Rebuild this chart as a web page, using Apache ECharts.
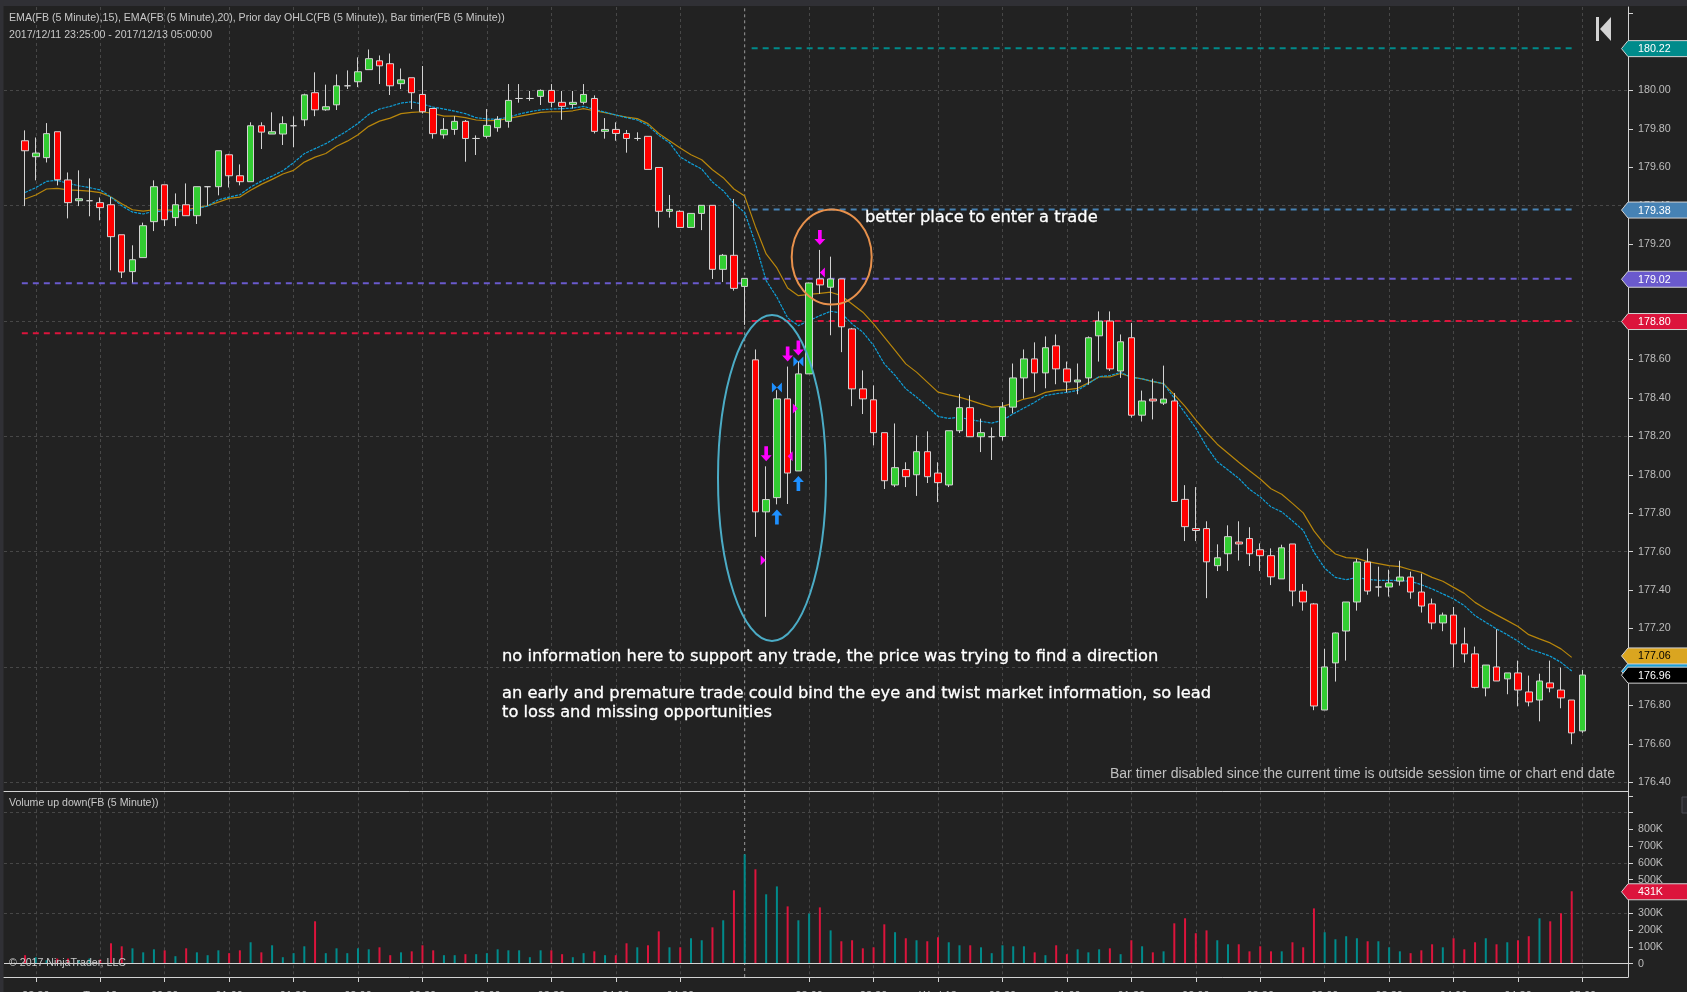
<!DOCTYPE html>
<html><head><meta charset="utf-8">
<style>html,body{margin:0;padding:0;background:#222222;overflow:hidden}#c{width:1687px;height:992px}</style>
<script src="https://cdn.jsdelivr.net/npm/echarts@6/dist/echarts.min.js"></script>
</head><body><div id="c"></div>
<script>
// open, close, low, high for every 5-minute bar
const candles = [
[179.738,179.686,179.398,179.792],[179.655,179.674,179.532,179.755],[179.65,179.775,179.625,179.83],[179.785,179.535,179.506,179.785],
[179.534,179.416,179.334,179.573],[179.426,179.436,179.398,179.584],[179.426,179.426,179.345,179.542],[179.416,179.39,179.324,179.443],
[179.405,179.239,179.064,179.445],[179.249,179.055,179.024,179.249],[179.057,179.119,179.0,179.194],[179.13,179.296,179.13,179.312],
[179.317,179.499,179.268,179.532],[179.509,179.327,179.294,179.509],[179.338,179.405,179.294,179.464],[179.405,179.348,179.348,179.516],
[179.348,179.499,179.305,179.499],[179.499,179.499,179.40,179.50],[179.499,179.686,179.454,179.686],[179.665,179.556,179.495,179.67],
[179.556,179.525,179.506,179.615],[179.525,179.816,179.525,179.834],[179.816,179.783,179.695,179.834],[179.773,179.785,179.773,179.886],
[179.773,179.827,179.716,179.865],[179.816,179.816,179.705,179.865],[179.847,179.977,179.814,179.983],[179.988,179.899,179.866,180.094],
[179.899,179.915,179.894,180.03],[179.925,180.024,179.898,180.083],[180.024,180.024,180.007,180.104],[180.045,180.097,180.017,180.172],
[180.108,180.165,180.108,180.213],[180.154,180.128,180.033,180.182],[180.139,180.024,179.976,180.192],[180.035,180.055,180.007,180.114],
[180.066,179.988,179.903,180.066],[179.979,179.889,179.88,180.127],[179.906,179.775,179.749,179.906],[179.769,179.797,179.749,179.856],
[179.797,179.839,179.769,179.866],[179.839,179.75,179.629,179.846],[179.75,179.75,179.664,179.766],[179.761,179.818,179.75,179.903],
[179.806,179.849,179.785,179.866],[179.839,179.948,179.806,180.033],[179.958,179.958,179.936,180.033],[179.958,179.958,179.946,179.997],
[179.969,180.0,179.924,180.005],[180.0,179.938,179.912,180.033],[179.938,179.917,179.847,179.997],[179.927,179.938,179.906,179.997],
[179.938,179.979,179.927,180.033],[179.958,179.787,179.776,179.974],[179.787,179.797,179.749,179.856],[179.797,179.776,179.738,179.834],
[179.776,179.75,179.676,179.794],[179.75,179.75,179.738,179.782],[179.761,179.589,179.589,179.761],[179.599,179.371,179.286,179.599],
[179.371,179.381,179.338,179.456],[179.371,179.287,179.287,179.376],[179.287,179.36,179.287,179.36],[179.36,179.402,179.273,179.402],
[179.402,179.069,179.019,179.402],[179.069,179.142,179.003,179.149],[179.142,178.97,178.958,179.435],[178.98,179.022,178.78,179.022],
[178.598,177.807,177.677,178.652],[177.807,177.871,177.261,178.044],[177.881,178.395,177.846,178.44],[178.395,178.009,177.848,178.563],
[178.02,178.525,178.02,178.59],[178.525,178.998,178.525,179.0],[179.019,178.988,178.941,179.17],[178.976,179.019,178.726,179.135],
[179.019,178.77,178.638,179.019],[178.759,178.447,178.357,178.764],[178.447,178.395,178.316,178.543],[178.39,178.219,178.153,178.465],
[178.219,177.969,177.926,178.219],[177.947,178.037,177.936,178.267],[178.027,177.99,177.936,178.065],[178.0,178.12,177.89,178.205],
[178.12,177.99,177.957,178.226],[178.009,177.959,177.858,178.065],[177.947,178.229,177.936,178.229],[178.229,178.349,178.217,178.421],
[178.349,178.198,178.198,178.413],[178.198,178.219,178.118,178.292],[178.198,178.198,178.077,178.246],[178.199,178.352,178.178,178.378],
[178.352,178.504,178.319,178.579],[178.504,178.603,178.396,178.652],[178.603,178.53,178.429,178.689],[178.53,178.661,178.45,178.72],
[178.671,178.551,178.471,178.73],[178.551,178.483,178.429,178.589],[178.483,178.493,178.419,178.579],[178.504,178.713,178.469,178.72],
[178.723,178.80,178.589,178.85],[178.80,178.551,178.54,178.85],[178.54,178.692,178.504,178.73],[178.713,178.31,178.298,178.79],
[178.31,178.384,178.277,178.438],[178.394,178.384,178.288,178.5],[178.373,178.394,178.363,178.568],[178.384,177.861,177.861,178.425],
[177.872,177.73,177.655,177.946],[177.72,177.71,177.655,177.936],[177.72,177.547,177.358,177.758],[177.527,177.568,177.499,177.638],
[177.589,177.678,177.499,177.737],[177.65,177.64,177.554,177.758],[177.668,177.589,177.525,177.727],[177.61,177.579,177.499,177.643],
[177.579,177.469,177.426,177.617],[177.458,177.62,177.458,177.636],[177.64,177.395,177.316,177.64],[177.395,177.338,177.293,177.432],
[177.328,176.797,176.775,177.333],[176.776,177.0,176.776,177.095],[177.021,177.177,176.924,177.18],[177.187,177.338,177.033,177.338],
[177.338,177.546,177.293,177.562],[177.546,177.395,177.376,177.616],[177.416,177.416,177.366,177.522],[177.416,177.437,177.366,177.506],
[177.447,177.468,177.423,177.553],[177.468,177.39,177.355,177.496],[177.39,177.317,177.283,177.486],[177.328,177.229,177.196,177.356],
[177.229,177.27,177.186,177.283],[177.27,177.12,176.998,177.312],[177.12,177.068,177.023,177.205],[177.068,176.894,176.889,177.106],
[176.891,177.01,176.847,177.01],[177.0,176.927,176.927,177.196],[176.938,176.969,176.858,176.969],[176.969,176.88,176.795,177.033],
[176.87,176.818,176.795,176.955],[176.828,176.927,176.717,176.965],[176.917,176.891,176.868,177.033],[176.88,176.839,176.785,176.997],
[176.828,176.657,176.598,176.828],[176.667,176.958,176.657,176.984]];

const ema15 = [179.469,179.494,179.527,179.532,179.516,179.504,179.494,179.482,179.445,179.4,179.367,179.357,179.372,179.369,179.369,179.372,179.384,179.398,179.431,179.445,179.457,179.497,179.528,179.554,179.582,179.624,179.671,179.697,179.723,179.756,179.79,179.828,179.875,179.903,179.917,179.934,179.941,
179.929,179.913,179.903,179.892,179.879,179.858,179.851,179.851,179.86,179.877,179.889,179.899,179.903,179.905,179.908,179.917,179.901,179.887,179.872,179.858,179.846,179.818,179.766,179.728,179.653,179.62,179.591,179.523,179.478,179.412,179.365,179.204,
179.01,178.924,178.816,178.776,178.802,178.828,178.851,178.841,178.785,178.742,178.673,178.577,178.517,178.447,178.404,178.356,178.304,178.293,178.3,178.286,178.278,178.269,
178.283,178.317,178.347,178.377,178.412,178.422,178.429,178.439,178.474,178.511,178.516,178.533,178.507,178.499,178.486,178.474,178.399,178.321,178.243,178.147,178.068,178.025,177.981,177.924,177.885,177.833,177.807,177.76,177.711,177.598,177.514,
177.466,177.454,177.466,177.456,177.451,177.451,177.449,177.446,177.428,177.406,177.38,177.354,177.319,177.267,177.232,177.198,177.168,177.134,177.094,177.076,177.056,177.024,176.979];

const ema20 = [179.435,179.456,179.487,179.49,179.482,179.48,179.476,179.468,179.445,179.41,179.379,179.372,179.379,179.377,179.377,179.379,179.39,179.4,179.419,179.438,179.445,179.48,179.511,179.537,179.565,179.584,179.627,179.653,179.672,179.709,179.736,179.769,179.813,179.84,179.856,179.879,179.886,
179.889,179.88,179.866,179.866,179.858,179.846,179.842,179.844,179.854,179.865,179.875,179.886,179.889,179.889,179.894,179.905,179.894,179.884,179.872,179.861,179.853,179.827,179.776,179.738,179.7,179.665,179.639,179.587,179.546,179.487,179.45,179.291,
179.149,179.076,178.972,178.932,178.939,178.944,178.95,178.932,178.889,178.846,178.785,178.716,178.647,178.577,178.534,178.482,178.43,178.416,178.404,178.387,178.369,178.352,
178.356,178.373,178.394,178.405,178.429,178.439,178.443,178.45,178.478,178.509,178.509,178.527,178.509,178.499,178.485,178.474,178.417,178.356,178.286,178.22,178.159,178.112,178.065,178.021,177.978,177.927,177.899,177.851,177.802,177.708,177.638,
177.588,177.569,177.565,177.548,177.538,177.527,177.522,177.506,177.492,177.466,177.446,177.414,177.383,177.336,177.302,177.271,177.241,177.21,177.168,177.146,177.125,177.094,177.05];

// volume in thousands (the last bar has none yet)
const volumes = [50,38,20,30,30,20,30,24,121,103,91,67,85,79,44,91,67,50,79,62,79,127,67,109,38,62,103,252,62,91,62,91,85,97,50,67,73,109,79,50,50,56,56,62,85,79,79,38,79,79,
56,38,62,73,50,50,121,97,109,192,97,97,151,139,216,258,437,651,562,413,460,341,258,298,335,198,133,139,91,97,234,187,151,139,133,157,127,109,109,97,62,109,103,103,67,50,109,56,85,67,85,91,
56,139,103,67,73,240,270,181,198,139,115,115,73,103,73,73,127,97,329,187,145,163,151,133,133,97,73,62,79,115,97,151,85,127,151,115,127,139,163,270,252,300,431];

// prior-day level prices and the bars they span
const spanFirstDay = [-0.3,67];
const spanSecondDay = [67.65,144.3];
const lowPrices = [178.996,179.02];
const closePrices = [178.736,178.80];
const highPrice = 180.22, midPrice = 179.38;

// markers [bar, price]
const arrowsDown = [[74,179.235],[71,178.629],[72,178.66],[69,178.11]];
const arrowsUp = [[72,177.954],[70,177.78]];
const bowties = [[70,178.454],[72,178.589]];
const trianglesLeft = [[74,179.052],[71,178.096]];
const trianglesRight = [[72,178.345],[69,177.555]];

const xTickBars = [1,7,13,19,25,31,37,43,49,55,61,73,79,85,91,97,103,109,115,121,127,133,139,145];
const xTickLabels = ['23:30','Tue 12','00:30','01:00','01:30','02:00','02:30','03:00','03:30','04:00','04:30','23:00','23:30','Wed 13','00:30','01:00','01:30','02:00','02:30','03:00','03:30','04:00','04:30','05:00'];
const sessionBar = 67;
const priceTicks = [176.4,176.6,176.8,177,177.2,177.4,177.6,177.8,178,178.2,178.4,178.6,178.8,179,179.2,179.4,179.6,179.8,180,180.2,180.4];
const priceLabels = [176.4,176.6,176.8,177,177.2,177.4,177.6,177.8,178,178.2,178.4,178.6,178.8,179,179.2,179.4,179.6,179.8,180];
const priceGrid = [176.4,177,177.6,178.2,178.8,179.4,180];
const volTicks = [0,100,200,300,400,500,600,700,800,900,1000];
const volLabels = [0,100,200,300,400,500,600,700,800];
const volGrid = [300,600,900];

const flagValues = [176.98,177.06,176.96,178.80,179.02,179.38,180.22];
const flagTexts = ['','177.06','176.96','178.80','179.02','179.38','180.22'];
const volFlagValues = [431];
const volFlagTexts = ['431K'];

const XMIN=-1.96, XMAX=149.24, PMIN=176.353, PMAX=180.434, VMIN=-80, VMAX=1027;
const flagFill=['#1a9fd6','#DAA520','#000000','#DC143C','#6A5ACD','#4682B4','#008B8B'];
const flagInk=['#fff','#000','#fff','#fff','#fff','#fff','#fff'];
const FONT='"Liberation Sans",Arial,sans-serif', NOTE='"DejaVu Sans",Verdana,sans-serif';
const GRIDC='#474747', AX='#d3d3d3', LBL='#bdbdbd';
const labelMap={}; xTickBars.forEach((b,i)=>labelMap[b]=xTickLabels[i]);

function flagRender(fills,inks,texts){
  return function(params,api){
    const p=api.coord([XMAX,api.value(1)]); const x=p[0],y=p[1]+0.5,i=params.dataIndex;
    return {type:'group',children:[
      {type:'polygon',shape:{points:[[x-6.5,y],[x,y-8],[1700,y-8],[1700,y+8],[x,y+8]]},style:{fill:fills[i],stroke:AX,lineWidth:1}},
      {type:'text',style:{x:x+10,y:y+0.5,text:texts[i],fill:inks[i],font:'10.7px '+FONT,textVerticalAlign:'middle'}}
    ]};
  };
}
function levelSeries(span,price,color){return {type:'line',xAxisIndex:0,yAxisIndex:0,data:[[span[0],price],[span[1],price]],symbol:'none',silent:true,z:1,
  lineStyle:{color,width:2,type:[6,5]}};}
function markerSeries(data,path,size,color,offset){return {type:'scatter',xAxisIndex:0,yAxisIndex:0,data,symbol:'path://'+path,symbolSize:size,symbolOffset:offset||[0,0],symbolKeepAspect:false,silent:true,z:6,itemStyle:{color,opacity:1}};}

const ARW_D='M4 0H8V9H12L6 15L0 9H4Z', ARW_U='M4 15H8V6H12L6 0L0 6H4Z', BOW='M0 0L5 5L0 10ZM10 0L5 5L10 10Z', TL='M5 0L0 5L5 10Z', TR='M0 0L5 5L0 10Z';
const noteStyle=(x,y,text)=>({type:'text',silent:true,z:20,style:{x,y,text,fill:'#ffffff',stroke:'#ffffff',lineWidth:0.3,font:'16.3px '+NOTE,textVerticalAlign:'middle'}});
const smallStyle=(x,y,text)=>({type:'text',silent:true,z:20,style:{x,y,text,fill:'#c8c8c8',font:'10.6px '+FONT,textVerticalAlign:'middle'}});

const idx=(a)=>a.map((v,i)=>[i,v]);
const option={
  animation:false,backgroundColor:'#222222',
  textStyle:{fontFamily:FONT},
  grid:[{left:4,top:7,width:1624,height:784.3,outerBoundsMode:'none'},{left:4,top:791.3,width:1624,height:185.7,outerBoundsMode:'none'}],
  xAxis:[
    {type:'value',gridIndex:0,min:XMIN,max:XMAX,axisLine:{onZero:false,lineStyle:{color:AX,width:1}},axisLabel:{show:false},
     axisTick:{show:false,customValues:xTickBars},splitLine:{show:true,lineStyle:{color:GRIDC,type:[3,3],width:1}}},
    {type:'value',gridIndex:1,min:XMIN,max:XMAX,axisLine:{onZero:false,lineStyle:{color:AX,width:1}},
     axisTick:{show:true,length:5,customValues:xTickBars,lineStyle:{color:AX}},
     axisLabel:{show:true,margin:13,customValues:xTickBars,color:LBL,fontSize:11,fontFamily:FONT,hideOverlap:false,formatter:v=>labelMap[v]||''},
     splitLine:{show:true,lineStyle:{color:GRIDC,type:[3,3],width:1}}}
  ],
  yAxis:[
    {type:'value',gridIndex:0,position:'right',min:PMIN,max:PMAX,axisLine:{show:true,onZero:false,lineStyle:{color:AX}},
     axisTick:{show:true,length:5,customValues:priceTicks,lineStyle:{color:AX}},
     axisLabel:{show:true,margin:10,customValues:priceLabels,color:LBL,fontSize:10.7,fontFamily:FONT,padding:[2,0,0,0],formatter:v=>v.toFixed(2)},splitLine:{show:false}},
    {type:'value',gridIndex:0,position:'left',min:PMIN,max:PMAX,axisLine:{show:false,onZero:false},axisLabel:{show:false},
     axisTick:{show:false,customValues:priceGrid},splitLine:{show:true,lineStyle:{color:GRIDC,type:[3,3],width:1}}},
    {type:'value',gridIndex:1,position:'right',min:VMIN,max:VMAX,axisLine:{show:true,onZero:false,lineStyle:{color:AX}},
     axisTick:{show:true,length:5,customValues:volTicks,lineStyle:{color:AX}},
     axisLabel:{show:true,margin:10,customValues:volLabels,color:LBL,fontSize:10.7,fontFamily:FONT,padding:[2,0,0,0],formatter:v=>v===0?'0':v+'K'},splitLine:{show:false}},
    {type:'value',gridIndex:1,position:'left',min:VMIN,max:VMAX,axisLine:{show:false,onZero:false},axisLabel:{show:false},
     axisTick:{show:false,customValues:volGrid},splitLine:{show:true,lineStyle:{color:GRIDC,type:[3,3],width:1}}}
  ],
  series:[
    levelSeries(spanFirstDay,lowPrices[0],'#6A5ACD'),
    levelSeries(spanSecondDay,lowPrices[1],'#6A5ACD'),
    levelSeries(spanFirstDay,closePrices[0],'#DC143C'),
    levelSeries(spanSecondDay,closePrices[1],'#DC143C'),
    levelSeries(spanSecondDay,highPrice,'#008B8B'),
    levelSeries(spanSecondDay,midPrice,'#4682B4'),
    {type:'line',xAxisIndex:0,yAxisIndex:0,data:[[sessionBar,PMIN],[sessionBar,PMAX]],symbol:'none',silent:true,z:1,lineStyle:{color:'#9a9a9a',width:1,type:[3,3]}},
    {type:'line',xAxisIndex:1,yAxisIndex:2,data:[[sessionBar,VMIN],[sessionBar,VMAX]],symbol:'none',silent:true,z:1,lineStyle:{color:'#9a9a9a',width:1,type:[3,3]}},
    {type:'line',xAxisIndex:0,yAxisIndex:0,name:'EMA20',data:idx(ema20),symbol:'none',silent:true,z:2,lineStyle:{color:'#B8860B',width:1.2}},
    {type:'line',xAxisIndex:0,yAxisIndex:0,name:'EMA15',data:idx(ema15),symbol:'none',silent:true,z:2,lineStyle:{color:'#0f9fd8',width:1.2,type:[3,1]}},
    {type:'candlestick',xAxisIndex:0,yAxisIndex:0,barWidth:7,z:3,silent:true,
     encode:{x:0,y:[1,2,3,4]},data:candles.map((c,i)=>[i,c[0],c[1],c[2],c[3]]),
     itemStyle:{color:'#32CD32',color0:'#FF0000',borderColor:AX,borderColor0:AX,borderColorDoji:AX,borderWidth:1}},
    {type:'bar',xAxisIndex:1,yAxisIndex:2,barWidth:2,z:3,silent:true,
     data:volumes.map((v,i)=>({value:[i,v],itemStyle:{color:candles[i][1]>=candles[i][0]?'#008B8B':'#DC143C'}})),
     markLine:{silent:true,symbol:'none',label:{show:false},animation:false,lineStyle:{color:AX,type:'solid',width:1},data:[{yAxis:0}]}},
    markerSeries(arrowsDown,ARW_D,[11,15],'#FF00FF'),
    markerSeries(arrowsUp,ARW_U,[11,15],'#1E90FF'),
    markerSeries(bowties,BOW,[10,10],'#1E90FF'),
    markerSeries(trianglesLeft,TL,[5,10],'#FF00FF',[2.5,0]),
    markerSeries(trianglesRight,TR,[5,10],'#FF00FF',[-3,0]),
    {type:'custom',xAxisIndex:0,yAxisIndex:0,clip:false,z:8,silent:true,coordinateSystem:'cartesian2d',encode:{x:0,y:1},
     data:flagValues.map(v=>[XMAX,v]),renderItem:flagRender(flagFill,flagInk,flagTexts)},
    {type:'custom',xAxisIndex:1,yAxisIndex:2,clip:false,z:8,silent:true,coordinateSystem:'cartesian2d',encode:{x:0,y:1},
     data:volFlagValues.map(v=>[XMAX,v]),renderItem:flagRender(['#DC143C'],['#fff'],volFlagTexts)}
  ],
  graphic:{elements:[
    {type:'rect',silent:true,z:0,shape:{x:0,y:0,width:1687,height:6},style:{fill:'#303035'}},
    {type:'rect',silent:true,z:0,shape:{x:0,y:0,width:3.5,height:992},style:{fill:'#303035'}},
    {type:'rect',silent:true,z:0,shape:{x:1682,y:797,width:8,height:16},style:{fill:'#2a2a2e',stroke:'#4a4a52'}},
    smallStyle(9,18,'EMA(FB (5 Minute),15), EMA(FB (5 Minute),20), Prior day OHLC(FB (5 Minute)), Bar timer(FB (5 Minute))'),
    smallStyle(9,35.5,'2017/12/11 23:25:00 - 2017/12/13 05:00:00'),
    smallStyle(9,803.5,'Volume up down(FB (5 Minute))'),
    smallStyle(9,963.5,'© 2017 NinjaTrader, LLC'),
    {type:'text',silent:true,z:20,style:{x:1615,y:774.5,text:'Bar timer disabled since the current time is outside session time or chart end date',fill:'#c0c0c0',font:'14px '+FONT,textAlign:'right',textVerticalAlign:'middle'}},
    noteStyle(865,218,'better place to enter a trade'),
    noteStyle(502,656.5,'no information here to support any trade, the price was trying to find a direction'),
    noteStyle(502,694,'an early and premature trade could bind the eye and twist market information, so lead'),
    noteStyle(502,713,'to loss and missing opportunities'),
    {type:'ellipse',silent:true,z:15,shape:{cx:772,cy:478,rx:54,ry:163},style:{fill:'none',stroke:'#4BACC6',lineWidth:2}},
    {type:'ellipse',silent:true,z:15,shape:{cx:831.7,cy:257,rx:40,ry:47.5},style:{fill:'none',stroke:'#E8914C',lineWidth:2}},
    {type:'rect',silent:true,z:15,shape:{x:1596,y:17,width:3,height:24},style:{fill:'#d3d3d3'}},
    {type:'polygon',silent:true,z:15,shape:{points:[[1600,29],[1611,17],[1611,41]]},style:{fill:'#d3d3d3'}}
  ]}
};
const chart=echarts.init(document.getElementById('c'),null,{renderer:'canvas',width:1687,height:992});
chart.setOption(option);
</script></body></html>
